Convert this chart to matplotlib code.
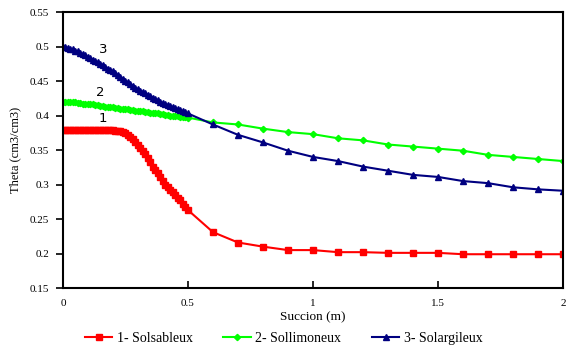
import matplotlib
matplotlib.use("Agg")
import matplotlib.pyplot as plt

# succion (m): pas fin jusqu'a 0.5 puis pas de 0.1
succion = [0.00, 0.01, 0.02, 0.03, 0.04, 0.05, 0.06, 0.07, 0.08, 0.09,
           0.10, 0.11, 0.12, 0.13, 0.14, 0.15, 0.16, 0.17, 0.18, 0.19,
           0.20, 0.21, 0.22, 0.23, 0.24, 0.25, 0.26, 0.27, 0.28, 0.29,
           0.30, 0.31, 0.32, 0.33, 0.34, 0.35, 0.36, 0.37, 0.38, 0.39,
           0.40, 0.41, 0.42, 0.43, 0.44, 0.45, 0.46, 0.47, 0.48, 0.49,
           0.50, 0.6, 0.7, 0.8, 0.9, 1.0, 1.1, 1.2, 1.3, 1.4, 1.5, 1.6,
           1.7, 1.8, 1.9, 2.0]

# 1- Sol sableux
theta_sable = [0.379, 0.379, 0.379, 0.379, 0.379, 0.379, 0.379, 0.379, 0.379, 0.379,
               0.379, 0.379, 0.379, 0.379, 0.379, 0.379, 0.379, 0.379, 0.379, 0.379,
               0.379, 0.378, 0.378, 0.377, 0.376, 0.374, 0.372, 0.369, 0.366, 0.362,
               0.358, 0.353, 0.349, 0.344, 0.338, 0.332, 0.326, 0.321, 0.316, 0.311,
               0.305, 0.300, 0.296, 0.292, 0.289, 0.285, 0.281, 0.277, 0.272, 0.268,
               0.263, 0.231, 0.216, 0.210, 0.205, 0.205, 0.202, 0.202, 0.201, 0.201,
               0.201, 0.199, 0.199, 0.199, 0.199, 0.199]

# 2- Sol limoneux
theta_limon = [0.420, 0.420, 0.420, 0.420, 0.419, 0.419, 0.418, 0.418, 0.417, 0.417,
               0.417, 0.416, 0.416, 0.415, 0.415, 0.414, 0.414, 0.413, 0.413, 0.412,
               0.412, 0.411, 0.411, 0.410, 0.410, 0.409, 0.409, 0.408, 0.408, 0.407,
               0.407, 0.406, 0.406, 0.405, 0.405, 0.404, 0.404, 0.403, 0.403, 0.402,
               0.402, 0.401, 0.401, 0.400, 0.400, 0.399, 0.399, 0.398, 0.398, 0.398,
               0.397, 0.390, 0.387, 0.381, 0.376, 0.373, 0.367, 0.364, 0.358, 0.355,
               0.352, 0.349, 0.343, 0.340, 0.337, 0.334]

# 3- Sol argileux
theta_argile = [0.500, 0.499, 0.498, 0.497, 0.496, 0.494, 0.493, 0.491, 0.489, 0.487,
                0.485, 0.483, 0.481, 0.479, 0.477, 0.475, 0.473, 0.471, 0.468, 0.466,
                0.464, 0.461, 0.458, 0.456, 0.453, 0.450, 0.448, 0.445, 0.443, 0.440,
                0.438, 0.436, 0.434, 0.432, 0.430, 0.428, 0.426, 0.424, 0.422, 0.420,
                0.418, 0.417, 0.415, 0.414, 0.412, 0.411, 0.409, 0.408, 0.406, 0.405,
                0.403, 0.387, 0.372, 0.361, 0.349, 0.340, 0.334, 0.326, 0.320, 0.314,
                0.311, 0.305, 0.302, 0.296, 0.293, 0.291]

serif = "Liberation Serif"

fig = plt.figure(figsize=(5.67, 3.53), dpi=100)
ax = fig.add_axes([0.111, 0.184, 0.882, 0.782])

ax.plot(succion, theta_sable, color="#ff0000", lw=1.5, marker="s", ms=4,
        label="1- Solsableux")
ax.plot(succion, theta_limon, color="#00ff00", lw=1.5, marker="D", ms=3.2,
        label="2- Sollimoneux")
ax.plot(succion, theta_argile, color="#000080", lw=1.5, marker="^", ms=4.5,
        label="3- Solargileux")

ax.text(0.16, 0.495, "3", fontsize=9.5, ha="center", va="center")
ax.text(0.148, 0.434, "2", fontsize=9.5, ha="center", va="center")
ax.text(0.16, 0.396, "1", fontsize=9.5, ha="center", va="center")

ax.set_xlim(0, 2)
ax.set_ylim(0.15, 0.55)
ax.set_xticks([0, 0.5, 1, 1.5, 2])
ax.set_xticklabels(["0", "0.5", "1", "1.5", "2"])
ax.set_yticks([0.15, 0.2, 0.25, 0.3, 0.35, 0.4, 0.45, 0.5, 0.55])
ax.set_yticklabels(["0.15", "0.2", "0.25", "0.3", "0.35", "0.4", "0.45", "0.5", "0.55"])
ax.tick_params(axis="x", direction="in", length=5, width=1.2, pad=8, labelsize=8)
ax.tick_params(axis="y", direction="out", length=5, width=1.2, pad=5, labelsize=8)
for lab in ax.get_xticklabels() + ax.get_yticklabels():
    lab.set_fontfamily(serif)
for sp in ax.spines.values():
    sp.set_linewidth(1.5)

ax.set_xlabel("Succion (m)", fontfamily=serif, fontsize=9.5, labelpad=2)
ax.set_ylabel("Theta (cm3/cm3)", fontfamily=serif, fontsize=9, labelpad=6)

fig.legend(loc="center", bbox_to_anchor=(0.5, 0.042), ncol=3, frameon=False,
           prop={"family": serif, "size": 10}, handlelength=2.0,
           handletextpad=0.3, columnspacing=2.2)

fig.savefig("out.png", dpi=100)
